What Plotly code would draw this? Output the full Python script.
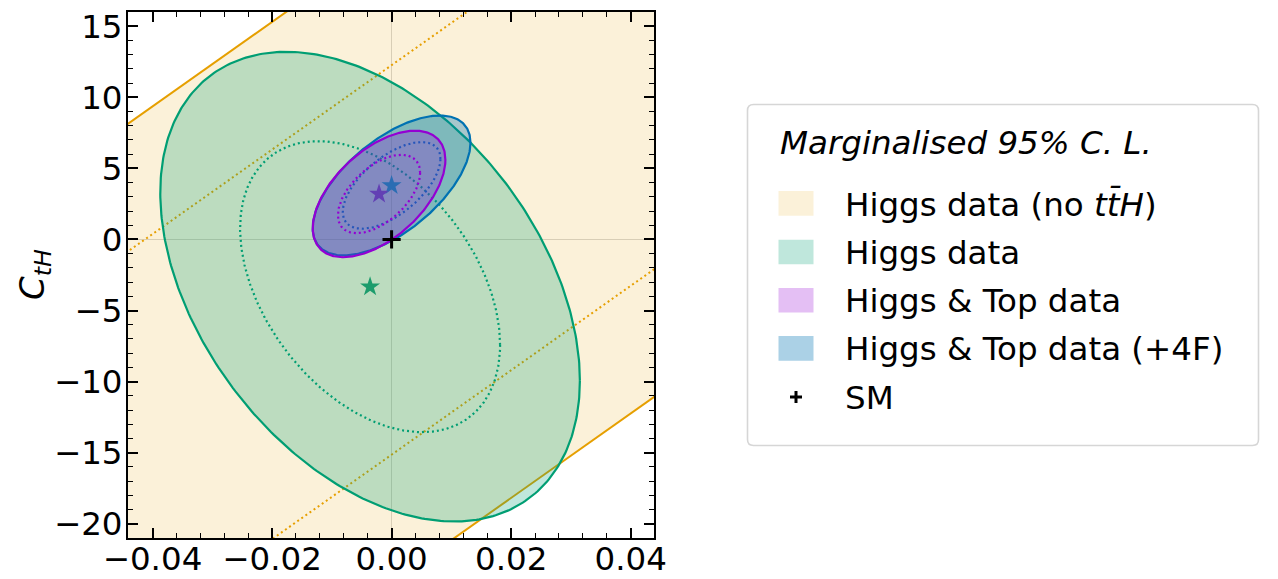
import numpy as np
import plotly.graph_objects as go

# ---- fit results (95% C.L. extents) ----
# 2D Gaussian contours: centre, 95% half-extent in x and y, correlation
fit_names = ["Higgs data", "Higgs & Top data (+4F)", "Higgs & Top data"]
centre_x = [-0.0036, 0.0000, -0.0021]
centre_y = [-3.32, 3.80, 3.20]
half95_x = [0.0351, 0.0132, 0.0111]
half95_y = [16.52, 4.92, 4.45]
rho = [-0.40, 0.61, 0.54]
line_colors = ["#009E73", "#0072B2", "#9400D3"]
fill_colors = ["rgba(0,158,115,0.25)", "rgba(0,114,178,0.33)", "rgba(148,0,211,0.25)"]
star_colors = ["#1c9c6c", "#2a6db3", "#6240b4"]

# Higgs data without ttH: flat direction, band  C_tH = offset + slope * C_tG
band_offset = -1.44
band_slope = 297.0
band_half95 = 22.68
band_half68 = 13.70
band_line = "#E69F00"
band_fill = "rgba(230,159,0,0.15)"

# chi^2 levels for two parameters
CHI2_68 = 2.30
CHI2_95 = 5.99

# SM point
sm_x, sm_y = [0.0], [0.0]

x_range = [-0.0441, 0.0439]
y_range = [-21, 16]
x_ticks = [-0.04, -0.02, 0.00, 0.02, 0.04]
y_ticks = [-20, -15, -10, -5, 0, 5, 10, 15]

legend_title = "<i>Marginalised 95% C. L.</i>"
legend_labels = ["Higgs data (no <i>tt\u0304H</i>)", "Higgs data",
                 "Higgs & Top data", "Higgs & Top data (+4F)", "SM"]
legend_swatches = [band_fill, fill_colors[0], fill_colors[2], fill_colors[1]]

FONT = "DejaVu Sans"
FS = 32.5


def ellipse(i, scale):
    t = np.linspace(0, 2 * np.pi, 400)
    r = rho[i]
    u = np.cos(t)
    v = r * np.cos(t) + np.sqrt(1 - r * r) * np.sin(t)
    return (centre_x[i] + scale * half95_x[i] * u,
            centre_y[i] + scale * half95_y[i] * v)


fig = go.Figure()

# band (no ttH)
xb = np.array([-0.08, 0.08])
upper95 = band_offset + band_half95 + band_slope * xb
lower95 = band_offset - band_half95 + band_slope * xb
fig.add_trace(go.Scatter(
    x=np.concatenate([xb, xb[::-1]]),
    y=np.concatenate([upper95, lower95[::-1]]),
    fill="toself", fillcolor=band_fill, mode="none",
    hoverinfo="skip", showlegend=False))
for sgn in (1, -1):
    fig.add_trace(go.Scatter(
        x=xb, y=band_offset + sgn * band_half95 + band_slope * xb,
        mode="lines", line=dict(color=band_line, width=2),
        hoverinfo="skip", showlegend=False))
    fig.add_trace(go.Scatter(
        x=xb, y=band_offset + sgn * band_half68 + band_slope * xb,
        mode="lines", line=dict(color=band_line, width=2, dash="2px,3px"),
        hoverinfo="skip", showlegend=False))

s68 = np.sqrt(CHI2_68 / CHI2_95)
for i in range(len(fit_names)):
    ex, ey = ellipse(i, 1.0)
    fig.add_trace(go.Scatter(
        x=ex, y=ey, fill="toself", fillcolor=fill_colors[i], mode="lines",
        line=dict(color=line_colors[i], width=2.2), name=fit_names[i],
        hoverinfo="skip", showlegend=False))
    ex, ey = ellipse(i, s68)
    fig.add_trace(go.Scatter(
        x=ex, y=ey, mode="lines",
        line=dict(color=line_colors[i], width=2.2, dash="2px,3px"),
        hoverinfo="skip", showlegend=False))

# best-fit points
fig.add_trace(go.Scatter(
    x=centre_x, y=centre_y, mode="markers",
    marker=dict(symbol="star", size=15, color=star_colors, line=dict(width=0)),
    hoverinfo="skip", showlegend=False))
fig.add_trace(go.Scatter(
    x=sm_x, y=sm_y, mode="markers",
    marker=dict(symbol="cross-thin", size=13, line=dict(color="black", width=3)),
    hoverinfo="skip", showlegend=False))

# ---- layout ----
W, H = 1278, 579
L, R, T, B = 128, 654, 12, 538


def px(xp):
    return (xp - L) / (R - L)


def py(yp):
    return (B - yp) / (B - T)


axis_common = dict(
    showline=True, linecolor="black", linewidth=2, mirror="ticks",
    ticks="inside", ticklen=10, tickwidth=1.6, tickcolor="black",
    showgrid=False, zeroline=True, zerolinecolor="rgba(120,120,120,0.3)",
    zerolinewidth=1.2, automargin=False,
    tickfont=dict(family=FONT, size=FS, color="black"),
)

fig.update_layout(
    width=W, height=H,
    margin=dict(l=L, r=W - R, t=T, b=H - B),
    paper_bgcolor="white", plot_bgcolor="white",
    font=dict(family=FONT, color="black"),
    showlegend=False,
    xaxis=dict(range=x_range, tickvals=x_ticks,
               ticktext=[f"{v:.2f}".replace("-", "\u2212") for v in x_ticks],
               minor=dict(dtick=0.004, tick0=0, ticks="inside", ticklen=5,
                          tickwidth=1.3, tickcolor="black"),
               ticklabelstandoff=-9, **axis_common),
    yaxis=dict(range=y_range, tickvals=y_ticks,
               ticktext=[str(v).replace("-", "\u2212") for v in y_ticks],
               minor=dict(dtick=1, tick0=0, ticks="inside", ticklen=5,
                          tickwidth=1.3, tickcolor="black"),
               ticklabelstandoff=-3,
               **axis_common),
)

# y-axis title
fig.add_annotation(xref="paper", yref="paper", x=px(34), y=py(275),
                   text="<i>C</i><sub><i>tH</i></sub>", textangle=-90,
                   showarrow=False, xanchor="center", yanchor="middle",
                   font=dict(family=FONT, size=34, color="black"))

# ---- legend panel ----
bx0, bx1, by0, by1, rad = 747.5, 1258.5, 104.5, 445.5, 6
path = (f"M{px(bx0 + rad)},{py(by0)} L{px(bx1 - rad)},{py(by0)} "
        f"Q{px(bx1)},{py(by0)} {px(bx1)},{py(by0 + rad)} "
        f"L{px(bx1)},{py(by1 - rad)} Q{px(bx1)},{py(by1)} {px(bx1 - rad)},{py(by1)} "
        f"L{px(bx0 + rad)},{py(by1)} Q{px(bx0)},{py(by1)} {px(bx0)},{py(by1 - rad)} "
        f"L{px(bx0)},{py(by0 + rad)} Q{px(bx0)},{py(by0)} {px(bx0 + rad)},{py(by0)} Z")
fig.add_shape(type="path", xref="paper", yref="paper", path=path,
              line=dict(color="#d6d6d6", width=1.6), fillcolor="white", layer="above")

fig.add_annotation(xref="paper", yref="paper", x=px(778), y=py(143),
                   text=legend_title, showarrow=False, xanchor="left", yanchor="middle",
                   font=dict(family=FONT, size=FS, color="black"))

row_y = [203.4, 252.0, 300.2, 348.4, 397.0]
for k, lab in enumerate(legend_labels):
    yc = row_y[k]
    if k < len(legend_swatches):
        fig.add_shape(type="rect", xref="paper", yref="paper",
                      x0=px(778.5), x1=px(813.5), y0=py(yc - 12.3), y1=py(yc + 12.3),
                      fillcolor=legend_swatches[k], line=dict(width=0), layer="above")
    else:
        fig.add_shape(type="line", xref="paper", yref="paper",
                      x0=px(790), x1=px(802), y0=py(yc), y1=py(yc),
                      line=dict(color="black", width=3), layer="above")
        fig.add_shape(type="line", xref="paper", yref="paper",
                      x0=px(796), x1=px(796), y0=py(yc - 6), y1=py(yc + 6),
                      line=dict(color="black", width=3), layer="above")
    fig.add_annotation(xref="paper", yref="paper", x=px(843), y=py(yc + 1),
                       text=lab, showarrow=False, xanchor="left", yanchor="middle",
                       font=dict(family=FONT, size=FS, color="black"))

fig.write_html("out.html")
